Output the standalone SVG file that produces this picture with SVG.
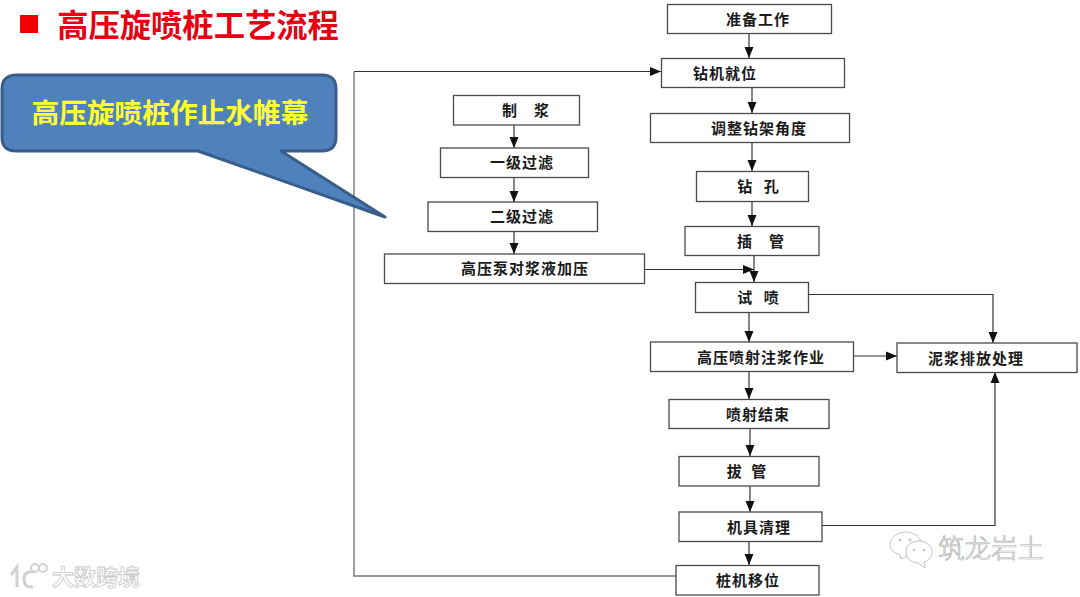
<svg xmlns="http://www.w3.org/2000/svg" width="1080" height="597" viewBox="0 0 1080 597">
<style>
text{font-family:"Noto Sans CJK SC","Noto Sans CJK JP",sans-serif;text-anchor:middle}
.b{fill:#fff;stroke:#4a4a4a;stroke-width:1.3}
.t{font-size:15px;font-weight:700;fill:#1a1a1a;letter-spacing:1px}
.c{fill:none;stroke:#333;stroke-width:1.2}
.g{fill:none;stroke:#777;stroke-width:1.4}
.wm{fill:#fff;stroke:#c4c4c4;stroke-width:1}
</style>
<defs>
<marker id="a" viewBox="0 0 11 11" refX="11" refY="5.500" markerWidth="11" markerHeight="11" markerUnits="userSpaceOnUse" orient="auto"><path d="M0 1 L11 5.500 L0 10Z" fill="#111"/></marker>
</defs>
<rect width="1080" height="597" fill="#fff"/>
<g id="title">
<rect x="20" y="15" width="18" height="18" fill="#f00000"/>
<text x="198" y="37" style="font-size:31.300px;font-weight:700;fill:#e60012">高压旋喷桩工艺流程</text>
</g>
<g id="connectors">
<path class="g" d="M354 72V576H676"/>
<path class="c" d="M354 71.500H661" marker-end="url(#a)"/>
<path class="c" d="M749 34V58" marker-end="url(#a)"/>
<path class="c" d="M752 88V113" marker-end="url(#a)"/>
<path class="c" d="M752 143V171" marker-end="url(#a)"/>
<path class="c" d="M752 201V226" marker-end="url(#a)"/>
<path class="c" d="M754 256V282" marker-end="url(#a)"/>
<path class="c" d="M644 269.500H754" marker-end="url(#a)"/>
<path class="c" d="M749 312V342" marker-end="url(#a)"/>
<path class="c" d="M749 371V399" marker-end="url(#a)"/>
<path class="c" d="M750 428V456" marker-end="url(#a)"/>
<path class="c" d="M750 486V512" marker-end="url(#a)"/>
<path class="c" d="M749 541V565" marker-end="url(#a)"/>
<path class="c" d="M853 356H897" marker-end="url(#a)"/>
<path class="c" d="M808 294.500H993V343" marker-end="url(#a)"/>
<path class="c" d="M822 525.500H995V372" marker-end="url(#a)"/>
<path class="c" d="M514 125V148" marker-end="url(#a)"/>
<path class="c" d="M514 177V202" marker-end="url(#a)"/>
<path class="c" d="M514 231V254" marker-end="url(#a)"/>
</g>
<g id="callout">
<path d="M17 75H322Q336 75 336 89V137Q336 151 322 151H281L385 217L198 151H16Q2 151 2 137V89Q2 75 17 75Z" fill="#4f81bd" stroke="#385d8a" stroke-width="3" stroke-linejoin="round"/>
<text x="170" y="123" style="font-size:27.700px;font-weight:700;fill:#ffff33">高压旋喷桩作止水帷幕</text>
</g>
<g id="n1"><rect class="b" x="667.500" y="4.500" width="164" height="29"/><text class="t" x="758" y="24.500">准备工作</text></g>
<g id="n2"><rect class="b" x="661.500" y="58.500" width="183" height="29"/><text class="t" x="725" y="78.500">钻机就位</text></g>
<g id="n3"><rect class="b" x="650.500" y="113.500" width="199" height="29"/><text class="t" x="759" y="133.500">调整钻架角度</text></g>
<g id="n4"><rect class="b" x="696.500" y="171.500" width="112" height="30"/><text class="t" x="760" y="191.500" style="letter-spacing:4px">钻 孔</text></g>
<g id="n5"><rect class="b" x="685" y="226.500" width="134" height="29"/><text class="t" x="761" y="246.500">插　管</text></g>
<g id="n6"><rect class="b" x="695.500" y="282.500" width="113" height="30"/><text class="t" x="760" y="302.500" style="letter-spacing:4px">试 喷</text></g>
<g id="n7"><rect class="b" x="650.500" y="342" width="203" height="29.500"/><text class="t" x="761" y="362.500">高压喷射注浆作业</text></g>
<g id="n8"><rect class="b" x="897" y="343" width="180" height="29.500"/><text class="t" x="976" y="363.500">泥浆排放处理</text></g>
<g id="n9"><rect class="b" x="669" y="399.500" width="160" height="29"/><text class="t" x="758" y="419.500">喷射结束</text></g>
<g id="n10"><rect class="b" x="679" y="456.500" width="140" height="29.500"/><text class="t" x="748" y="476.500" style="letter-spacing:3px">拔 管</text></g>
<g id="n11"><rect class="b" x="679" y="512" width="143" height="29.500"/><text class="t" x="759" y="532.500">机具清理</text></g>
<g id="n12"><rect class="b" x="676" y="565.500" width="143" height="29.500"/><text class="t" x="748" y="585.500">桩机移位</text></g>
<g id="n13"><rect class="b" x="453.500" y="95.500" width="126" height="29.500"/><text class="t" x="526" y="115.500">制　浆</text></g>
<g id="n14"><rect class="b" x="440.500" y="148" width="148" height="29.500"/><text class="t" x="522" y="168">一级过滤</text></g>
<g id="n15"><rect class="b" x="428" y="202" width="169.500" height="29.500"/><text class="t" x="522" y="221.500">二级过滤</text></g>
<g id="n16"><rect class="b" x="384.500" y="254" width="260" height="29.500"/><text class="t" x="525" y="273.500">高压泵对浆液加压</text></g>
<g id="watermark-right">
<path class="wm" d="M890 545C890 537 898 532 906 532C913 532 919 536 921 541C911 541 905 548 907 556L901 559L900 555C894 553 890 550 890 545Z"/>
<path class="wm" d="M906 552C906 545 912 541 919 541C926 541 932 546 932 552C932 558 926 562 924 562L925 568L918 563C911 563 906 558 906 552Z"/>
<circle cx="900" cy="540" r="1.500" fill="#c4c4c4"/><circle cx="910" cy="540" r="1.500" fill="#c4c4c4"/>
<circle cx="914" cy="550" r="1.300" fill="#c4c4c4"/><circle cx="924" cy="550" r="1.300" fill="#c4c4c4"/>
<text x="991" y="558" style="font-size:26.500px;font-weight:300;fill:#fff;stroke:#b0b0b0;stroke-width:.7">筑龙岩土</text>
</g>
<g id="watermark-left">
<path d="M11 575L17 567V587M36 572Q24 570 24 579Q24 588 33 587" fill="none" stroke="#d2d2d2" stroke-width="3"/>
<circle cx="35" cy="568" r="4" fill="none" stroke="#d2d2d2" stroke-width="2"/>
<circle cx="43" cy="568" r="4" fill="none" stroke="#d2d2d2" stroke-width="2"/>
<text x="96" y="585" style="font-size:22px;font-weight:700;fill:#fff;stroke:#c8c8c8;stroke-width:.8">大数跨境</text>
</g>
</svg>
